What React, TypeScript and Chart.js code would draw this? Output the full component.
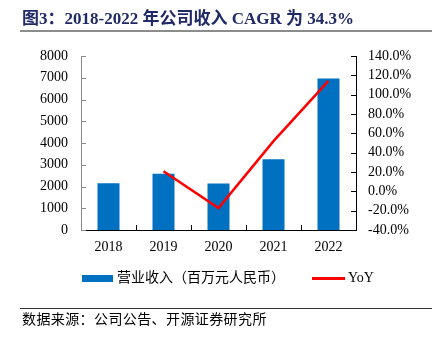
import React, { useEffect, useRef } from "react";
import { Chart, registerables } from "chart.js";

Chart.register(...registerables);

const categories = ["2018", "2019", "2020", "2021", "2022"];
const revenue = [2145, 2590, 2140, 3250, 6960];
const yoy: (number | null)[] = [null, 20.7, -17.4, 51.9, 114.2];
const leftTicks = { min: 0, max: 8000, step: 1000 };
const rightTicks = { min: -40, max: 140, step: 20 };

const titleText = "图3：2018-2022 年公司收入 CAGR 为 34.3%";
const legendBar = "营业收入（百万元人民币）";
const legendLine = "YoY";
const sourceText = "数据来源：公司公告、开源证券研究所";

const SERIF = '"Liberation Serif", "Times New Roman", "Noto Sans CJK SC", serif';
const CJK = '"Liberation Serif", "Noto Sans CJK SC", serif';

const innerTicks = {
  id: "innerTicks",
  afterDraw(chart: any) {
    const ctx = chart.ctx;
    const area = chart.chartArea;
    const y = chart.scales.y;
    const y1 = chart.scales.y1;
    const x = chart.scales.x;
    ctx.save();
    ctx.lineWidth = 1;
    ctx.strokeStyle = "#8a8a8a";
    y.ticks.forEach((_t: any, i: number) => {
      const py = Math.round(y.getPixelForTick(i)) + 0.5;
      ctx.beginPath();
      ctx.moveTo(area.left, py);
      ctx.lineTo(area.left + 5, py);
      ctx.stroke();
    });
    ctx.strokeStyle = "#000";
    y1.ticks.forEach((_t: any, i: number) => {
      const py = Math.round(y1.getPixelForTick(i)) + 0.5;
      ctx.beginPath();
      ctx.moveTo(area.right, py);
      ctx.lineTo(area.right - 5, py);
      ctx.stroke();
    });
    for (let i = 1; i < categories.length; i++) {
      const px = Math.round((x.getPixelForTick(i - 1) + x.getPixelForTick(i)) / 2) + 0.5;
      ctx.beginPath();
      ctx.moveTo(px, area.bottom);
      ctx.lineTo(px, area.bottom - 5);
      ctx.stroke();
    }
    ctx.restore();
  },
};

export default function App() {
  const ref = useRef<HTMLCanvasElement>(null);

  useEffect(() => {
    document.body.style.margin = "0";
    const canvas = ref.current!;
    const chart = new Chart(canvas, {
      type: "bar",
      data: {
        labels: categories,
        datasets: [
          {
            type: "line",
            label: legendLine,
            data: yoy,
            yAxisID: "y1",
            borderColor: "#FF0000",
            borderWidth: 2.5,
            pointRadius: 0,
            tension: 0,
            order: 0,
          } as any,
          {
            type: "bar",
            label: legendBar,
            data: revenue,
            yAxisID: "y",
            backgroundColor: "#0070C0",
            categoryPercentage: 1,
            barPercentage: 0.4,
            order: 1,
          },
        ],
      },
      options: {
        responsive: false,
        animation: false,
        devicePixelRatio: 1,
        layout: { padding: { top: 56, bottom: 79, left: 0, right: 0 } },
        plugins: {
          legend: { display: false },
          tooltip: { enabled: false },
          title: { display: false },
        },
        scales: {
          x: {
            grid: { display: false, drawTicks: false },
            border: { display: true, color: "#000", width: 1 },
            ticks: {
              color: "#000",
              padding: 9,
              font: { family: SERIF, size: 14 },
              maxRotation: 0,
            },
            afterFit(scale: any) {
              scale.height = 30;
            },
          },
          y: {
            position: "left",
            min: leftTicks.min,
            max: leftTicks.max,
            grid: { display: false, drawTicks: false },
            border: { display: true, color: "#8a8a8a", width: 1 },
            ticks: {
              stepSize: leftTicks.step,
              autoSkip: false,
              color: "#000",
              padding: 13,
              font: { family: SERIF, size: 14 },
              callback: (v: any) => `${v}`,
            },
            afterFit(scale: any) {
              scale.width = 81;
            },
          },
          y1: {
            position: "right",
            min: rightTicks.min,
            max: rightTicks.max,
            grid: { display: false, drawTicks: false },
            border: { display: true, color: "#000", width: 1 },
            ticks: {
              stepSize: rightTicks.step,
              autoSkip: false,
              color: "#000",
              padding: 12,
              font: { family: SERIF, size: 14 },
              callback: (v: any) => `${Number(v).toFixed(1)}%`,
            },
            afterFit(scale: any) {
              scale.width = 82;
            },
          },
        },
      },
      plugins: [innerTicks],
    });
    return () => chart.destroy();
  }, []);

  const abs = (s: React.CSSProperties): React.CSSProperties => ({ position: "absolute", ...s });

  return (
    <div style={{ position: "relative", width: 438, height: 339, background: "#fff", overflow: "hidden" }}>
      <canvas ref={ref} width={438} height={339} style={abs({ left: 0, top: 0, width: 438, height: 339 })} />
      <div
        style={abs({
          left: 22,
          top: 8,
          lineHeight: "22px",
          fontSize: 17,
          fontWeight: "bold",
          color: "#1F2A66",
          fontFamily: SERIF,
          whiteSpace: "nowrap",
        })}
      >
        {titleText}
      </div>
      <div style={abs({ left: 20, top: 30, width: 412, height: 2, background: "#8c8c8c" })} />
      <div style={abs({ left: 82, top: 275, width: 31, height: 7, background: "#0070C0" })} />
      <div
        style={abs({ left: 117, top: 268, lineHeight: "20px", fontSize: 14, fontFamily: CJK, color: "#000", whiteSpace: "nowrap" })}
      >
        {legendBar}
      </div>
      <div style={abs({ left: 312, top: 277, width: 33, height: 2.5, background: "#FF0000" })} />
      <div
        style={abs({ left: 348, top: 268, lineHeight: "20px", fontSize: 14, fontFamily: SERIF, color: "#000", whiteSpace: "nowrap" })}
      >
        {legendLine}
      </div>
      <div style={abs({ left: 20, top: 307.5, width: 412, height: 1.5, background: "#333" })} />
      <div
        style={abs({
          left: 22,
          top: 310,
          lineHeight: "20px",
          fontSize: 14,
          letterSpacing: "0.4px",
          fontFamily: CJK,
          color: "#000",
          whiteSpace: "nowrap",
        })}
      >
        {sourceText}
      </div>
    </div>
  );
}
